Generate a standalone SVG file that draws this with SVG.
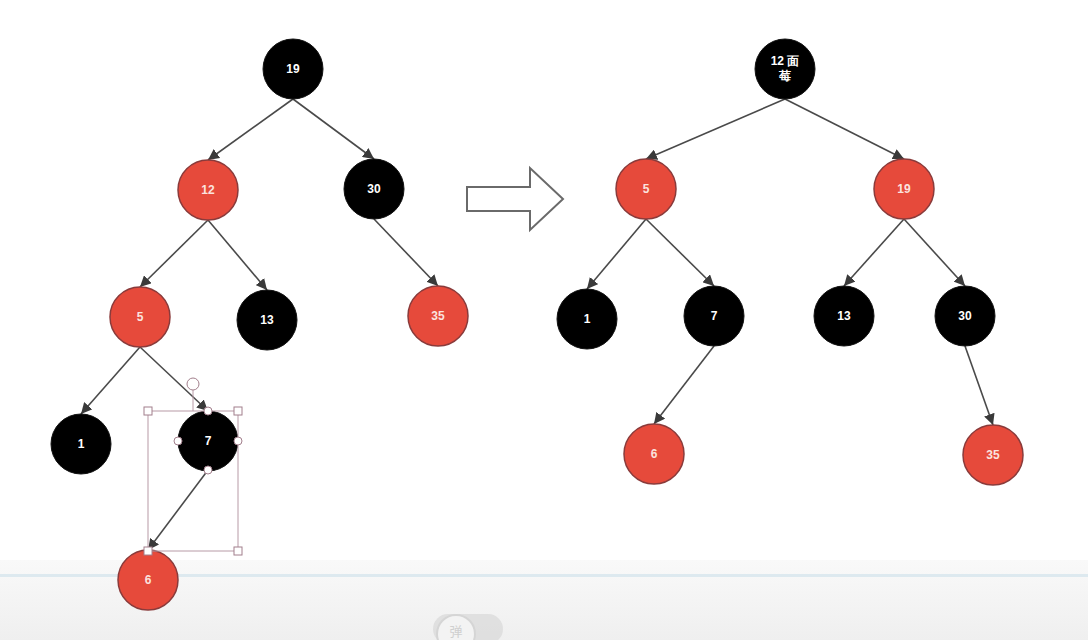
<svg xmlns="http://www.w3.org/2000/svg" width="1088" height="640" viewBox="0 0 1088 640">
<defs>
<marker id="ah" viewBox="0 0 10 10" refX="10" refY="5" markerWidth="11" markerHeight="11" markerUnits="userSpaceOnUse" orient="auto">
<path d="M0,0 L10,5 L0,10 z" fill="#3a3a3a"/>
</marker>
<linearGradient id="bar" x1="0" y1="0" x2="0" y2="1">
<stop offset="0" stop-color="#f9f9f9"/>
<stop offset="1" stop-color="#efefef"/>
</linearGradient>
</defs>
<style>
.red{fill:#e64a3b;stroke:#8a3b3b;stroke-width:1.5}
.blk{fill:#000;stroke:#111;stroke-width:1}
.t{font-family:"Liberation Sans",Arial,sans-serif;font-size:12px;font-weight:bold;text-anchor:middle;dominant-baseline:central;fill:#fff}
.tr{fill:#fbe3df}
.e{stroke:#4a4a4a;stroke-width:1.6;fill:none;marker-end:url(#ah)}
.sel{fill:none;stroke:#b79aa6;stroke-width:1}
.h{fill:#fff;stroke:#a27f8c;stroke-width:1}
</style>
<rect width="1088" height="640" fill="#fff"/>
<rect x="0" y="560" width="1088" height="80" fill="url(#bar)"/>
<rect x="0" y="574" width="1088" height="3" fill="#dde9ef"/>
<g id="player-toggle" opacity="0.8">
<rect x="433" y="614" width="70" height="30" rx="15" fill="#dcdcdc"/>
<circle cx="456" cy="634" r="19" fill="#f4f4f4" stroke="#cfcfcf" stroke-width="2"/>
<text x="456" y="630" font-family="'Noto Sans CJK SC',sans-serif" font-size="13" fill="#c8c8c8" text-anchor="middle" dominant-baseline="central">弹</text>
</g>

<g id="connectors">
<line class="e" x1="293" y1="99" x2="208" y2="160"/>
<line class="e" x1="293" y1="99" x2="374" y2="159"/>
<line class="e" x1="208" y1="220" x2="140" y2="287"/>
<line class="e" x1="208" y1="220" x2="267" y2="290"/>
<line class="e" x1="374" y1="219" x2="438" y2="286"/>
<line class="e" x1="140" y1="347" x2="81" y2="414"/>
<line class="e" x1="140" y1="347" x2="208" y2="411"/>
<line class="e" x1="208" y1="470" x2="148" y2="550"/>
<line class="e" x1="785" y1="99" x2="646" y2="159"/>
<line class="e" x1="785" y1="99" x2="904" y2="159"/>
<line class="e" x1="646" y1="219" x2="587" y2="289"/>
<line class="e" x1="646" y1="219" x2="714" y2="286"/>
<line class="e" x1="904" y1="219" x2="844" y2="286"/>
<line class="e" x1="904" y1="219" x2="965" y2="286"/>
<line class="e" x1="714" y1="346" x2="654" y2="424"/>
<line class="e" x1="965" y1="346" x2="993" y2="425"/>
</g>

<g id="L19"><circle class="blk" cx="293" cy="69" r="30"/><text class="t" x="293" y="69">19</text></g>
<g id="L12"><circle class="red" cx="208" cy="190" r="30"/><text class="t tr" x="208" y="190">12</text></g>
<g id="L30"><circle class="blk" cx="374" cy="189" r="30"/><text class="t" x="374" y="189">30</text></g>
<g id="L5"><circle class="red" cx="140" cy="317" r="30"/><text class="t tr" x="140" y="317">5</text></g>
<g id="L13"><circle class="blk" cx="267" cy="320" r="30"/><text class="t" x="267" y="320">13</text></g>
<g id="L35"><circle class="red" cx="438" cy="316" r="30"/><text class="t tr" x="438" y="316">35</text></g>
<g id="L1"><circle class="blk" cx="81" cy="444" r="30"/><text class="t" x="81" y="444">1</text></g>
<g id="L7"><circle class="blk" cx="208" cy="441" r="30"/><text class="t" x="208" y="441">7</text></g>
<g id="L6"><circle class="red" cx="148" cy="580" r="30"/><text class="t tr" x="148" y="580">6</text></g>

<g id="selection">
<rect class="sel" x="148" y="411" width="90" height="140"/>
<line class="sel" x1="193" y1="390" x2="193" y2="411"/>
<circle class="h" cx="193" cy="384" r="6"/>
<rect class="h" x="144" y="407" width="8" height="8"/>
<rect class="h" x="234" y="407" width="8" height="8"/>
<rect class="h" x="234" y="547" width="8" height="8"/>
<rect class="h" x="144" y="547" width="8" height="8"/>
<circle class="h" cx="208" cy="411" r="4"/>
<circle class="h" cx="178" cy="441" r="4"/>
<circle class="h" cx="238" cy="441" r="4"/>
<circle class="h" cx="208" cy="470" r="4"/>
</g>

<g id="arrow">
<path d="M467,187 L530,187 L530,168 L563,199 L530,230 L530,211 L467,211 Z" fill="#fff" stroke="#6a6a6a" stroke-width="2"/>
</g>

<g id="R12"><circle class="blk" cx="785" cy="69" r="30"/><text class="t" x="785" y="61">12 面</text><text class="t" x="785" y="76">莓</text></g>
<g id="R5"><circle class="red" cx="646" cy="189" r="30"/><text class="t tr" x="646" y="189">5</text></g>
<g id="R19"><circle class="red" cx="904" cy="189" r="30"/><text class="t tr" x="904" y="189">19</text></g>
<g id="R1"><circle class="blk" cx="587" cy="319" r="30"/><text class="t" x="587" y="319">1</text></g>
<g id="R7"><circle class="blk" cx="714" cy="316" r="30"/><text class="t" x="714" y="316">7</text></g>
<g id="R13"><circle class="blk" cx="844" cy="316" r="30"/><text class="t" x="844" y="316">13</text></g>
<g id="R30"><circle class="blk" cx="965" cy="316" r="30"/><text class="t" x="965" y="316">30</text></g>
<g id="R6"><circle class="red" cx="654" cy="454" r="30"/><text class="t tr" x="654" y="454">6</text></g>
<g id="R35"><circle class="red" cx="993" cy="455" r="30"/><text class="t tr" x="993" y="455">35</text></g>
</svg>
